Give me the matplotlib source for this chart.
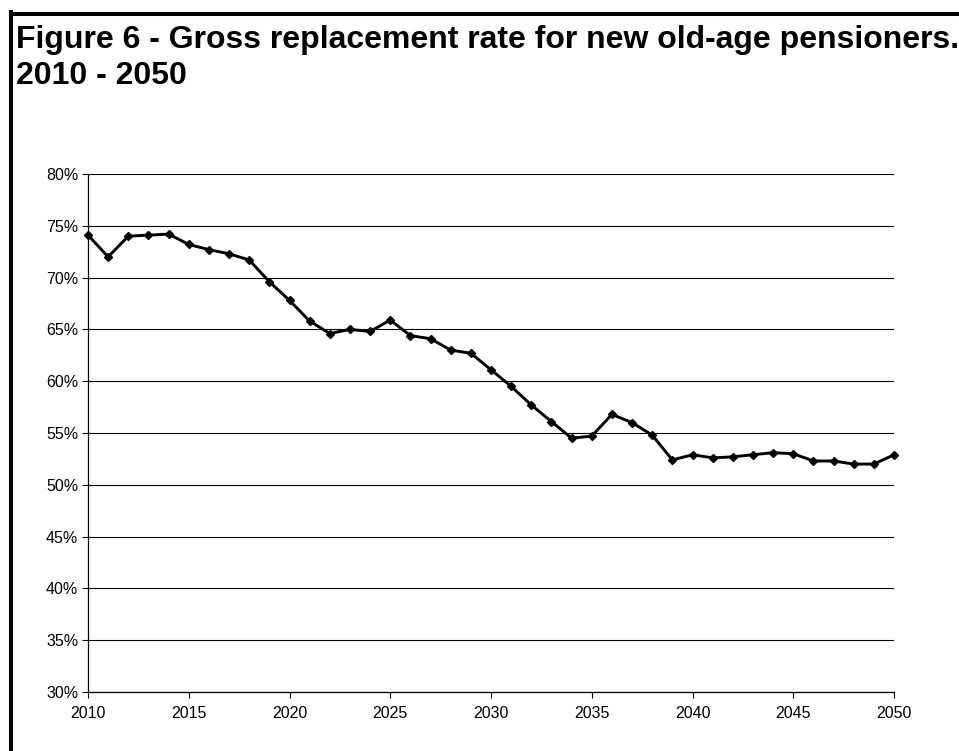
import matplotlib
matplotlib.use("Agg")
import matplotlib.pyplot as plt
from matplotlib.lines import Line2D
from matplotlib.ticker import MultipleLocator, FuncFormatter

years = list(range(2010, 2051))
rate = [74.1, 72.0, 74.0, 74.1, 74.2, 73.2, 72.7, 72.3, 71.7, 69.6,
        67.8, 65.8, 64.6, 65.0, 64.8, 65.9, 64.4, 64.1, 63.0, 62.7,
        61.1, 59.5, 57.7, 56.1, 54.5, 54.7, 56.8, 56.0, 54.8, 52.4,
        52.9, 52.6, 52.7, 52.9, 53.1, 53.0, 52.3, 52.3, 52.0, 52.0,
        52.9]

title1 = "Figure 6 - Gross replacement rate for new old-age pensioners."
title2 = "2010 - 2050"

plt.rcParams['font.family'] = ['Liberation Sans', 'DejaVu Sans']

W, H = 959, 751
fig = plt.figure(figsize=(W / 100, H / 100), dpi=100)

# black frame (left and top edges visible)
fig.add_artist(Line2D([11 / W, 11 / W], [0, 1 - 12 / H], color='black', lw=2.9,
                      transform=fig.transFigure, solid_capstyle='projecting'))
fig.add_artist(Line2D([11 / W, 1], [1 - 13.5 / H, 1 - 13.5 / H], color='black', lw=2.9,
                      transform=fig.transFigure, solid_capstyle='projecting'))

fig.text(16 / W, 1 - 48 / H, title1, fontsize=23, fontweight='bold', va='baseline')
fig.text(16 / W, 1 - 84 / H, title2, fontsize=23, fontweight='bold', va='baseline')

ax = fig.add_axes([88 / W, 1 - 692 / H, (894 - 88) / W, (692 - 174) / H])
ax.plot(years, rate, color='black', lw=2.1, marker='D', markersize=4.5, clip_on=False)

ax.set_xlim(2010, 2050)
ax.set_ylim(30, 80)
ax.xaxis.set_major_locator(MultipleLocator(5))
ax.yaxis.set_major_locator(MultipleLocator(5))
ax.yaxis.set_major_formatter(FuncFormatter(lambda v, p: '%d%%' % round(v)))
ax.grid(axis='y', color='black', lw=0.8)
ax.set_axisbelow(True)
for s in ['top', 'right']:
    ax.spines[s].set_visible(False)
for s in ['left', 'bottom']:
    ax.spines[s].set_linewidth(0.9)
ax.tick_params(axis='both', direction='out', length=4, width=0.8, labelsize=11.5, colors='black')
ax.tick_params(axis='y', pad=3)
ax.tick_params(axis='x', pad=6)

fig.savefig("out.png", dpi=100)
